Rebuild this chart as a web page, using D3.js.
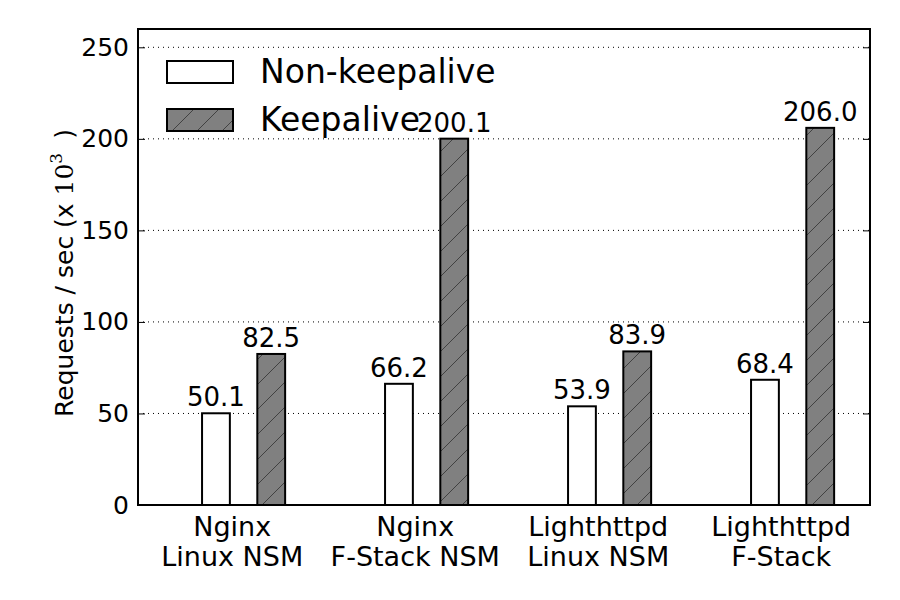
<!DOCTYPE html>
<html>
<head>
<meta charset="utf-8">
<script src="https://cdn.jsdelivr.net/npm/d3@7"></script>
<style>
  body { margin: 0; background: #fff; }
  text { font-family: "DejaVu Sans", sans-serif; fill: #000; }
</style>
</head>
<body>
<div id="chart"></div>
<script>
// data
var categories = [["Nginx", "Linux NSM"], ["Nginx", "F-Stack NSM"], ["Lighthttpd", "Linux NSM"], ["Lighthttpd", "F-Stack"]];
var seriesNames = ["Non-keepalive", "Keepalive"];
var nonKeepalive = [50.1, 66.2, 53.9, 68.4];
var keepalive = [82.5, 200.1, 83.9, 206.0];
var yTicks = [0, 50, 100, 150, 200, 250];

var margin = {top: 29, right: 30, bottom: 95, left: 138},
    width = 900 - margin.left - margin.right,
    height = 600 - margin.top - margin.bottom;

var svg = d3.select("#chart")
    .append("svg")
    .attr("width", 900)
    .attr("height", 600);

// sparse "/" hatch
var defs = svg.append("defs");
var pat = defs.append("pattern")
    .attr("id", "hatch")
    .attr("patternUnits", "userSpaceOnUse")
    .attr("width", 25)
    .attr("height", 25);
pat.append("rect").attr("width", 25).attr("height", 25).attr("fill", "#808080");
pat.append("path")
    .attr("d", "M-2,27 L27,-2 M-14,14 L14,-14 M11,39 L39,11")
    .attr("stroke", "#3a3a3a")
    .attr("stroke-width", 0.9);

var g = svg.append("g")
    .attr("transform", "translate(" + margin.left + "," + margin.top + ")");

var idx = categories.map(function(d, i) { return i; });
var x0 = d3.scaleBand().domain(idx).range([0, width]).paddingInner(0).paddingOuter(0);
var bw = x0.bandwidth();
// position inside one group, as fraction of the group
var xin = d3.scaleLinear().domain([0, 1]).range([0, bw]);
var barW = xin(0.152);
var offsets = [xin(0.35), xin(0.652)];
var tickPos = xin(0.515);

var y = d3.scaleLinear().domain([0, 260]).range([height, 0]);

// grid
g.append("g")
  .selectAll("line")
  .data(yTicks.filter(function(d) { return d > 0; }))
  .enter()
  .append("line")
    .attr("x1", 0).attr("x2", width)
    .attr("y1", function(d) { return y(d); })
    .attr("y2", function(d) { return y(d); })
    .attr("stroke", "#000")
    .attr("stroke-width", 1)
    .attr("stroke-dasharray", "1,4");

// y axis left
var yAxis = g.append("g")
    .call(d3.axisLeft(y).tickValues(yTicks).tickSize(-7).tickPadding(9));
yAxis.select(".domain").remove();
yAxis.selectAll("text").style("font-size", "25px");
yAxis.selectAll("line").attr("stroke-width", 1);

// right ticks
g.append("g")
  .attr("transform", "translate(" + width + ",0)")
  .call(d3.axisRight(y).tickValues(yTicks).tickSize(-7).tickFormat(""))
  .select(".domain").remove();

// bars
var series = [nonKeepalive, keepalive];
var fills = ["#fff", "url(#hatch)"];
series.forEach(function(vals, s) {
  g.append("g")
    .selectAll("rect")
    .data(vals)
    .enter()
    .append("rect")
      .attr("x", function(d, i) { return x0(i) + offsets[s]; })
      .attr("y", function(d) { return y(d); })
      .attr("width", barW)
      .attr("height", function(d) { return height - y(d); })
      .attr("fill", fills[s])
      .attr("stroke", "#000")
      .attr("stroke-width", 2);

  g.append("g")
    .selectAll("text")
    .data(vals)
    .enter()
    .append("text")
      .attr("x", function(d, i) { return x0(i) + offsets[s] + barW / 2; })
      .attr("y", function(d) { return y(d) - 7; })
      .attr("text-anchor", "middle")
      .style("font-size", "26px")
      .text(function(d) { return d.toFixed(1); });
});

// frame
g.append("rect")
  .attr("width", width).attr("height", height)
  .attr("fill", "none").attr("stroke", "#000").attr("stroke-width", 2);

// category labels
var cat = g.append("g")
  .selectAll("text")
  .data(categories)
  .enter()
  .append("text")
    .attr("text-anchor", "middle")
    .attr("transform", function(d, i) { return "translate(" + (x0(i) + tickPos) + "," + (height + 31) + ")"; })
    .style("font-size", "27px");
cat.append("tspan").attr("x", 0).attr("dy", 0).text(function(d) { return d[0]; });
cat.append("tspan").attr("x", 0).attr("dy", 30).text(function(d) { return d[1]; });

// y label
var ylab = svg.append("text")
    .attr("transform", "translate(73,273) rotate(-90)")
    .attr("text-anchor", "middle")
    .style("font-size", "25px");
ylab.append("tspan").text("Requests / sec (x ");
ylab.append("tspan").style("font-family", "'DejaVu Serif', serif").text("10");
ylab.append("tspan").style("font-family", "'DejaVu Serif', serif").style("font-size", "17px").attr("dy", -11).text("3");
ylab.append("tspan").attr("dy", 11).attr("dx", 6).text(" )");

// legend
var leg = svg.append("g").attr("transform", "translate(167,61)");
seriesNames.forEach(function(name, i) {
  leg.append("rect")
    .attr("x", 0).attr("y", i * 48)
    .attr("width", 66).attr("height", 22)
    .attr("fill", fills[i]).attr("stroke", "#000").attr("stroke-width", 2);
  leg.append("text")
    .attr("x", 93).attr("y", i * 48 + 22)
    .style("font-size", "33px")
    .text(name);
});
</script>
</body>
</html>
